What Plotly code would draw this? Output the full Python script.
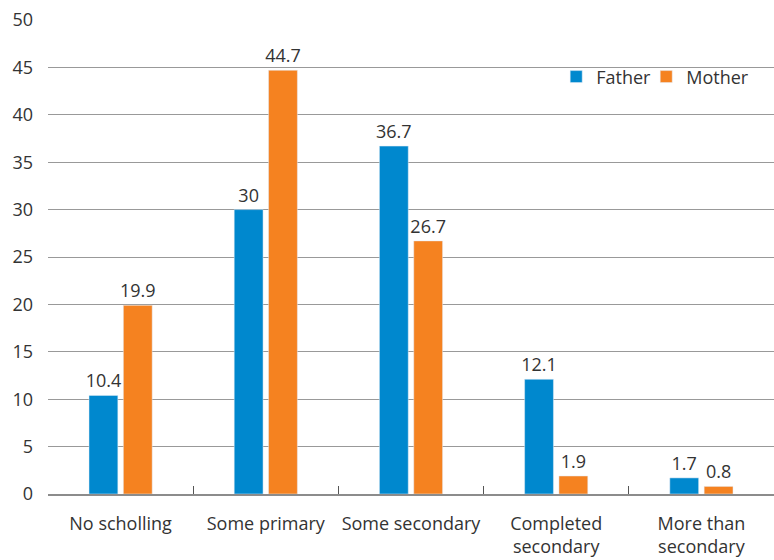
import plotly.graph_objects as go

categories = ["No scholling", "Some primary", "Some secondary", "Completed<br>secondary", "More than<br>secondary"]
father = [10.4, 30, 36.7, 12.1, 1.7]
mother = [19.9, 44.7, 26.7, 1.9, 0.8]
father_labels = ["10.4", "30", "36.7", "12.1", "1.7"]
mother_labels = ["19.9", "44.7", "26.7", "1.9", "0.8"]
y_ticks = [0, 5, 10, 15, 20, 25, 30, 35, 40, 45, 50]

FONT = "Open Sans"
FS = 18
fig = go.Figure()
fig.add_trace(go.Bar(name="Father", x=categories, y=father, text=father_labels,
                     textposition="outside", constraintext="none", marker_color="#0088CE",
                     textfont=dict(size=FS, color="#333333", family=FONT), cliponaxis=False,
                     legend="legend"))
fig.add_trace(go.Bar(name="Mother", x=categories, y=mother, text=mother_labels,
                     textposition="outside", constraintext="none", marker_color="#F58220",
                     textfont=dict(size=FS, color="#333333", family=FONT), cliponaxis=False,
                     legend="legend2"))

leg = dict(orientation="h", y=0.88, xanchor="left", yanchor="middle",
           font=dict(size=FS, color="#333333", family=FONT),
           itemwidth=30, bgcolor="rgba(0,0,0,0)")
fig.update_layout(
    width=774, height=560,
    margin=dict(l=48, r=0, t=20, b=66),
    paper_bgcolor="white", plot_bgcolor="white",
    barmode="group", bargap=0.527, bargroupgap=0.16,
    font=dict(family=FONT, size=FS, color="#333333"),
    legend=dict(leg, x=0.70),
    legend2=dict(leg, x=0.824),
    showlegend=True,
    uniformtext=dict(mode=False),
)
fig.update_xaxes(
    automargin=False, tickangle=0,
    showgrid=False, showline=True, linecolor="#8c8c8c", linewidth=2,
    ticks="inside", tickson="boundaries", ticklen=8, tickcolor="#555555", tickwidth=1,
    ticklabelstandoff=12,
    tickfont=dict(size=FS, color="#333333", family=FONT),
)
fig.update_yaxes(
    automargin=False,
    range=[0, 50], tickvals=y_ticks, showgrid=True, gridcolor="#999999", gridwidth=1,
    zeroline=False, showline=False, ticks="", ticklabelstandoff=14,
    tickfont=dict(size=FS, color="#333333", family=FONT),
)

fig.write_html("out.html", config={"displayModeBar": False},
               post_script="document.body.style.margin='0';")
